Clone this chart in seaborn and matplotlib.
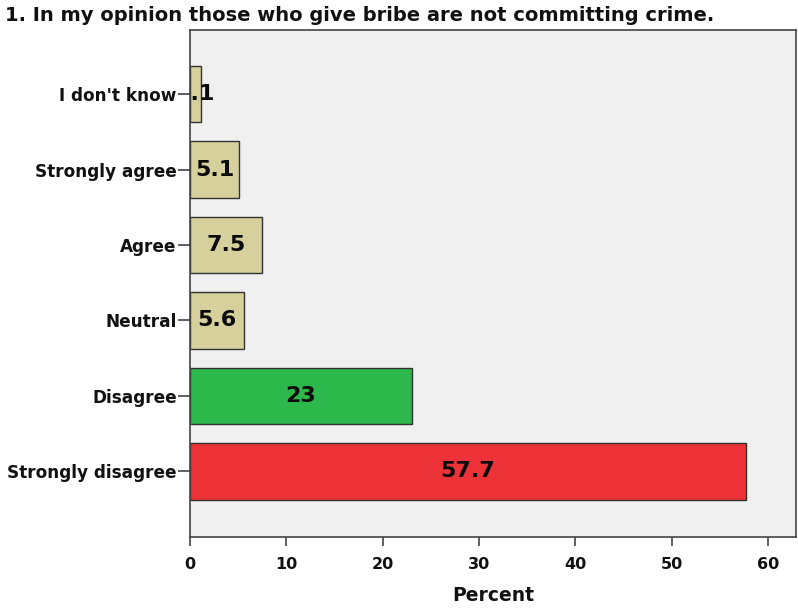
import matplotlib.pyplot as plt
import seaborn as sns
import pandas as pd

categories = ["I don't know", "Strongly agree", "Agree", "Neutral", "Disagree", "Strongly disagree"]
percent = [1.1, 5.1, 7.5, 5.6, 23.0, 57.7]
labels = ["1.1", "5.1", "7.5", "5.6", "23", "57.7"]
bar_colors = ["#d5d09c", "#d5d09c", "#d5d09c", "#d5d09c", "#2db84b", "#ee3338"]

df = pd.DataFrame({"Category": categories, "Percent": percent})

sns.set_theme(style="white")
plt.rcParams["font.family"] = ["DejaVu Sans"]

fig = plt.figure(figsize=(7.98, 6.11), dpi=100)
ax = fig.add_axes([0.238, 0.121, 0.7595, 0.830])
ax.set_facecolor("#f0f0f0")

sns.barplot(data=df, x="Percent", y="Category", hue="Category", palette=bar_colors,
            order=categories, legend=False, width=0.75, edgecolor="#333333",
            linewidth=1, saturation=1, ax=ax)

# value labels centred in the bars (clipped at the axis, as in the original)
for i, (v, lab) in enumerate(zip(percent, labels)):
    ax.text(v / 2, i, lab, ha="center", va="center", fontsize=16, fontweight="bold",
            color="#0a0a0a", clip_on=True)

ax.set_xlim(0, 62.9)
ax.set_ylim(5.87, -0.85)
ax.set_xticks(range(0, 61, 10))
ax.set_xlabel("Percent", fontsize=13.5, fontweight="bold", labelpad=10, color="#111111")
ax.set_ylabel("")
ax.tick_params(axis="x", bottom=True, direction="out", length=6.5, width=1.2,
               color="#444444", labelsize=11.5, pad=8, labelcolor="#111111")
ax.tick_params(axis="y", left=True, direction="out", length=8.5, width=1.2,
               color="#444444", labelsize=12.2, pad=1, labelcolor="#111111")
for t in ax.get_xticklabels() + ax.get_yticklabels():
    t.set_fontweight("bold")
for s in ax.spines.values():
    s.set_color("#444444")
    s.set_linewidth(1.2)

fig.text(0.006, 0.974, "1. In my opinion those who give bribe are not committing crime.",
         fontsize=14, fontweight="bold", ha="left", va="center", color="#111111")

fig.savefig("out.png", dpi=100)
